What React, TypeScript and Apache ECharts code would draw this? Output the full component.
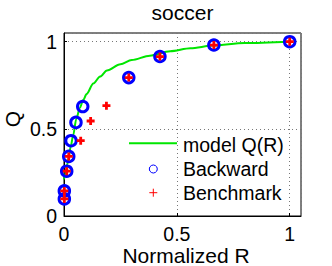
import React, { useEffect, useRef } from "react";
import * as echarts from "echarts";

const curveR = [0, 0.005, 0.01, 0.015, 0.02, 0.03, 0.04, 0.055, 0.07, 0.085, 0.1, 0.13, 0.16, 0.19, 0.25, 0.3, 0.38, 0.47, 0.56, 0.66, 0.8, 1.0];
const curveQ = [0.21, 0.24, 0.27, 0.3, 0.33, 0.4, 0.46, 0.56, 0.62, 0.665, 0.7, 0.76, 0.8, 0.835, 0.87, 0.895, 0.92, 0.945, 0.962, 0.978, 0.992, 1.0];

const backwardR = [0.0015, 0.0015, 0.012, 0.021, 0.031, 0.053, 0.083, 0.287, 0.425, 0.664, 1.0];
const backwardQ = [0.098, 0.144, 0.257, 0.342, 0.432, 0.537, 0.628, 0.794, 0.915, 0.981, 1.0];

const benchmarkR = [0.0015, 0.0015, 0.012, 0.021, 0.074, 0.118, 0.188, 0.287, 0.425, 0.664, 1.0];
const benchmarkQ = [0.098, 0.144, 0.257, 0.342, 0.432, 0.545, 0.633, 0.794, 0.915, 0.981, 1.0];

const xTickLabels = ["0", "0.5", "1"];
const yTickLabels = ["0", "0.5", "1"];

const FONT = '"Liberation Sans", Arial, Helvetica, sans-serif';
const FS = 19.5;
const FS_LABEL = 21;
const PLUS = "path://M2.6,0H5.4V2.6H8V5.4H5.4V8H2.6V5.4H0V2.6H2.6Z";

function fmt(labels: string[]) {
  return (v: number) => {
    const s = String(Math.round(v * 100) / 100);
    return labels.includes(s) ? s : "";
  };
}

export default function App() {
  const ref = useRef<HTMLDivElement>(null);
  useEffect(() => {
    if (!ref.current) return;
    const chart = echarts.init(ref.current, null, { renderer: "svg" });
    const axisCommon = {
      type: "value" as const,
      min: 0,
      max: 1.05,
      interval: 0.5,
      axisLine: { show: true, lineStyle: { color: "#000", width: 1 } },
      axisTick: { show: true, inside: true, length: 3, lineStyle: { color: "#000" } },
      splitLine: { show: true, lineStyle: { color: "#777", width: 1, type: [1, 3] } },
    };
    chart.setOption({
      animation: false,
      backgroundColor: "#fff",
      grid: { left: 64, right: 31, top: 33, bottom: 50, show: true, borderColor: "#000", borderWidth: 1, containLabel: false },
      xAxis: {
        ...axisCommon,
        axisLabel: { color: "#000", fontSize: FS, lineHeight: 18, fontFamily: FONT, margin: 9, formatter: fmt(xTickLabels), showMaxLabel: false },
      },
      yAxis: {
        ...axisCommon,
        axisLabel: { color: "#000", fontSize: FS, fontFamily: FONT, margin: 7, formatter: fmt(yTickLabels), showMaxLabel: false },
      },
      series: [
        {
          type: "line",
          name: "model Q(R)",
          data: curveR.map((r, i) => [r, curveQ[i]]),
          showSymbol: false,
          smooth: 0.3,
          smoothMonotone: "x",
          lineStyle: { color: "#00e600", width: 2 },
          z: 2,
        },
        {
          type: "scatter",
          name: "Backward",
          data: backwardR.map((r, i) => [r, backwardQ[i]]),
          symbol: "circle",
          symbolSize: 10.5,
          itemStyle: { color: "rgba(0,0,0,0)", borderColor: "#0000ff", borderWidth: 3, opacity: 1 },
          z: 3,
        },
        {
          type: "scatter",
          name: "Benchmark",
          data: benchmarkR.map((r, i) => [r, benchmarkQ[i]]),
          symbol: PLUS,
          symbolSize: 8,
          itemStyle: { color: "#ff0000", opacity: 1 },
          z: 4,
        },
      ],
      graphic: [
        { type: "text", x: 182.5, y: 12, style: { text: "soccer", fill: "#000", fontSize: FS_LABEL, fontFamily: FONT, align: "center", verticalAlign: "middle" } },
        { type: "text", x: 12, y: 119, rotation: Math.PI / 2, style: { text: "Q", fill: "#000", fontSize: FS_LABEL, fontFamily: FONT, align: "center", verticalAlign: "middle" } },
        { type: "text", x: 186, y: 255, style: { text: "Normalized R", fill: "#000", fontSize: FS_LABEL, lineHeight: 19, fontFamily: FONT, align: "center", verticalAlign: "middle" } },
        { type: "line", shape: { x1: 129, y1: 143.3, x2: 177, y2: 143.3 }, style: { stroke: "#00e600", lineWidth: 2 } },
        { type: "circle", shape: { cx: 153.3, cy: 169, r: 4 }, style: { stroke: "#0000ff", fill: "none", lineWidth: 1 } },
        { type: "line", shape: { x1: 149.3, y1: 192.7, x2: 157.3, y2: 192.7 }, style: { stroke: "#ff0000", lineWidth: 1 } },
        { type: "line", shape: { x1: 153.3, y1: 188.7, x2: 153.3, y2: 196.7 }, style: { stroke: "#ff0000", lineWidth: 1 } },
        { type: "text", x: 183, y: 145.3, style: { text: "model Q(R)", fill: "#000", fontSize: FS, fontFamily: FONT, align: "left", verticalAlign: "middle" } },
        { type: "text", x: 183, y: 169, style: { text: "Backward", fill: "#000", fontSize: FS, fontFamily: FONT, align: "left", verticalAlign: "middle" } },
        { type: "text", x: 183, y: 192.7, style: { text: "Benchmark", fill: "#000", fontSize: FS, fontFamily: FONT, align: "left", verticalAlign: "middle" } },
      ],
    });
    return () => chart.dispose();
  }, []);
  return (
    <div
      ref={ref}
      style={{ position: "absolute", left: 0, top: 0, width: 332, height: 266, background: "#fff" }}
    />
  );
}
